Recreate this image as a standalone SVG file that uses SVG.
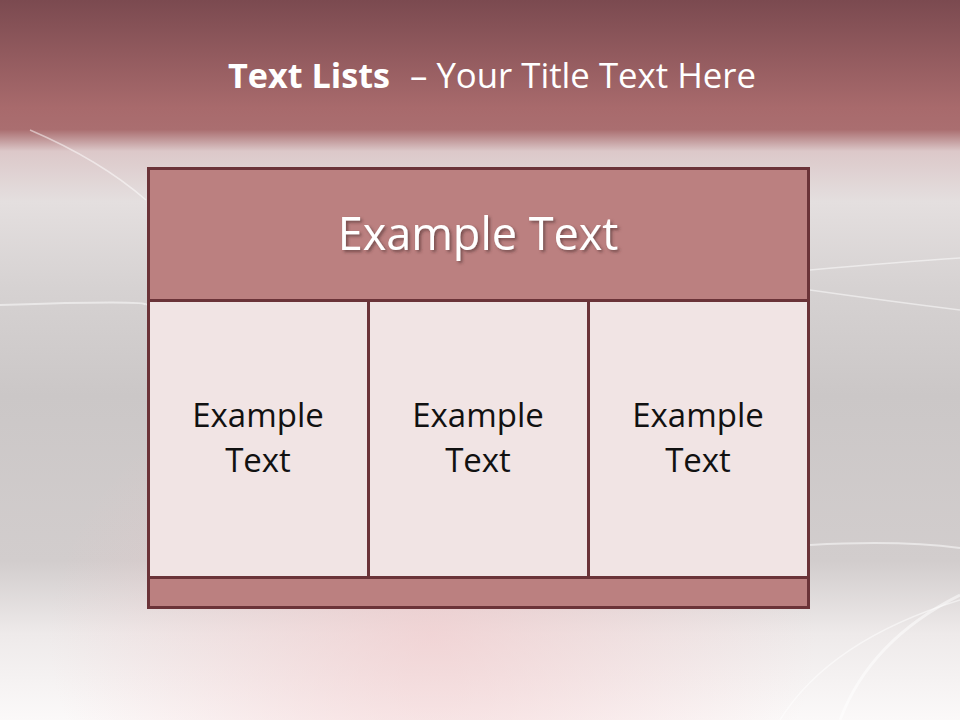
<svg xmlns="http://www.w3.org/2000/svg" width="960" height="720" viewBox="0 0 960 720">
<defs>
<linearGradient id="bg" x1="0" y1="0" x2="0" y2="1">
<stop offset="0" stop-color="#7b4a50"/>
<stop offset="0.15" stop-color="#a86a6c"/>
<stop offset="0.18" stop-color="#aa6e70"/>
<stop offset="0.21" stop-color="#dcc8c9"/>
<stop offset="0.28" stop-color="#e4dfdf"/>
<stop offset="0.4" stop-color="#d6d2d2"/>
<stop offset="0.55" stop-color="#cbc7c7"/>
<stop offset="0.78" stop-color="#d2cdcd"/>
<stop offset="0.88" stop-color="#eeeaea"/>
<stop offset="1" stop-color="#fbf9f9"/>
</linearGradient>
<radialGradient id="pink" cx="0.45" cy="0.88" r="0.4">
<stop offset="0" stop-color="#f2c6c8" stop-opacity="0.6"/>
<stop offset="1" stop-color="#f2c6c8" stop-opacity="0"/>
</radialGradient>
<filter id="sh" x="-10%" y="-10%" width="120%" height="130%">
<feDropShadow dx="2" dy="2" stdDeviation="1.5" flood-color="#4a2a2c" flood-opacity="0.6"/>
</filter>
<style>
.box{stroke:#6b3338;stroke-width:3}
.hd{fill:#bb8080}
.cell{fill:#f1e4e4}
.t{font-family:"Open Sans",Lato,"Liberation Sans",sans-serif;text-anchor:middle}
.ct{font-size:33px;fill:#111}
.hl{stroke:#ffffff;stroke-opacity:0.5;fill:none}
.ti{font-family:"Open Sans",Lato,"Liberation Sans",sans-serif;font-size:34px;fill:#ffffff}
</style>
</defs>
<g id="background">
<rect width="960" height="720" fill="url(#bg)"/>
<rect width="960" height="720" fill="url(#pink)"/>
<path class="hl" stroke-width="2" d="M0 305 Q150 300 146 305"/>
<path class="hl" stroke-width="1.5" d="M30 130 Q100 160 146 200"/>
<path class="hl" stroke-width="1.5" d="M810 290 Q880 300 960 310"/>
<path class="hl" stroke-width="1.5" d="M810 270 Q900 262 960 258"/>
<path class="hl" stroke-width="2" d="M810 545 Q900 540 960 548"/>
<path class="hl" stroke-width="3" d="M840 720 Q870 640 960 595"/>
<path class="hl" stroke-width="1.5" d="M780 720 Q830 640 960 600"/>
</g>
<g id="title">
<text x="228" y="88" class="ti" font-weight="bold" textLength="162" lengthAdjust="spacingAndGlyphs">Text Lists</text>
<text x="410" y="88" class="ti" textLength="346" lengthAdjust="spacingAndGlyphs">– Your Title Text Here</text>
</g>
<g id="header">
<rect class="box hd" x="148.5" y="168.5" width="660" height="132"/>
<text x="478" y="250" class="t" font-size="45" fill="#ffffff" filter="url(#sh)">Example Text</text>
</g>
<g id="cell1">
<rect class="box cell" x="148.5" y="300.5" width="220" height="277"/>
<text class="t ct" x="258" y="427">Example</text>
<text class="t ct" x="258" y="472">Text</text>
</g>
<g id="cell2">
<rect class="box cell" x="368.5" y="300.5" width="220" height="277"/>
<text class="t ct" x="478" y="427">Example</text>
<text class="t ct" x="478" y="472">Text</text>
</g>
<g id="cell3">
<rect class="box cell" x="588.5" y="300.5" width="220" height="277"/>
<text class="t ct" x="698" y="427">Example</text>
<text class="t ct" x="698" y="472">Text</text>
</g>
<g id="footer">
<rect class="box hd" x="148.5" y="577.5" width="660" height="30"/>
</g>
<g id="connectors"/>
</svg>
